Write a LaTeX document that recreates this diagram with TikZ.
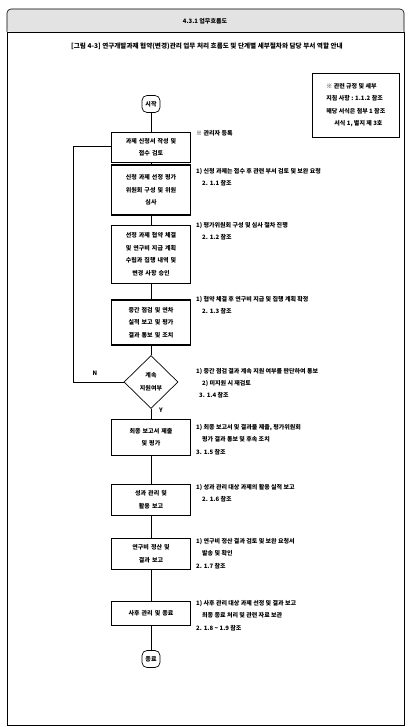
\documentclass[tikz,border=0pt]{standalone}
\usepackage{fontspec}
\setmainfont{Noto Sans CJK KR}
\usetikzlibrary{shapes.geometric}
\begin{document}
\begin{tikzpicture}[x=1pt,y=-1pt,
    every node/.style={font=\fontsize{6}{12.5}\selectfont\bfseries},
    procbox/.style={draw,line width=0.7pt,minimum width=79pt,inner sep=1pt,align=center,text width=74pt},
    thickbox/.style={procbox,line width=1.3pt},
    termbox/.style={draw,rounded corners=5pt,line width=0.7pt,minimum width=18pt,minimum height=17pt,inner sep=1pt},
    decbox/.style={draw,diamond,line width=0.7pt,minimum width=54pt,minimum height=53pt,inner sep=0pt,align=center},
    note/.style={anchor=north west,align=left,inner sep=0pt},
    flow/.style={line width=0.7pt}]
  \useasboundingbox (0,0) rectangle (407,727);
  % frame and header
  \fill[gray!22,rounded corners=4pt] (7,9) -- (7,32) -- (404,32) -- (404,9) -- cycle;
  \draw[line width=0.6pt,rounded corners=4pt] (7,32) -- (7,9) -- (404,9) -- (404,32);
  \draw[line width=0.9pt] (7,725) -- (7,32) -- (404,32) -- (404,725) -- cycle;
  \node (title) at (205,21) {4.3.1 업무흐름도};
  \node[font=\fontsize{6.6}{12}\selectfont\bfseries] (subtitle) at (207,46) {[그림 4-3] 연구개발과제 협약(변경)관리 업무 처리 흐름도 및 단계별 세부절차와 담당 부서 역할 안내};
  % legend box
  \node[draw,line width=0.7pt,anchor=north west,minimum width=87pt,minimum height=64pt,align=left,inner sep=3pt] (legend) at (312,73)
    {※ 관련 규정 및 세부\\지침 사항 : 1.1.2 참조\\해당 서식은 첨부 1 참조\\\hspace*{8pt}서식 1, 별지 제 3호};
  % flow
  \node[termbox] (start) at (151,104) {시작};
  \node[procbox,minimum height=30pt] (s1) at (151,147) {과제 신청서 작성 및\\접수 검토};
  \node[thickbox,minimum height=50pt] (s2) at (151,190) {신청 과제 선정 평가\\위원회 구성 및 위원\\심사};
  \node[procbox,minimum height=58pt] (s3) at (151,254) {선정 과제 협약 체결\\및 연구비 지급 계획\\수립과 집행 내역 및\\변경 사항 승인};
  \node[thickbox,minimum height=45pt] (s4) at (151,322.5) {중간 점검 및 연차\\실적 보고 및 평가\\결과 통보 및 조치};
  \node[decbox] (chk) at (151,382) {계속\\지원여부};
  \node[procbox,minimum height=36pt] (s5) at (151,437) {최종 보고서 제출\\및 평가};
  \node[procbox,minimum height=31pt] (s6) at (151,499.5) {성과 관리 및\\활용 보고};
  \node[procbox,minimum height=31pt] (s7) at (151,553.5) {연구비 정산 및\\결과 보고};
  \node[procbox,minimum height=24pt] (s8) at (151,613) {사후 관리 및 종료};
  \node[termbox] (stop) at (151,659) {종료};
  \coordinate (back) at (73,382);
  \draw[flow] (start) -- (s1);
  \draw[flow] (s1) -- (s2);
  \draw[flow] (s2) -- (s3);
  \draw[flow] (s3) -- (s4);
  \draw[flow] (s4) -- (chk);
  \draw[flow] (chk) -- (s5);
  \draw[flow] (s5) -- (s6);
  \draw[flow] (s6) -- (s7);
  \draw[flow] (s7) -- (s8);
  \draw[flow] (s8) -- (stop);
  \draw[flow,line width=1pt] (chk.west) -- (back) |- (s1.west);
  \node (no) at (95,373) {N};
  \node (yes) at (161,410) {Y};
  % notes
  \node[note] (n1) at (196,130) {※ 관리자 등록};
  \node[note] (n2) at (196,168) {1) 신청 과제는 접수 후 관련 부서 검토 및 보완 요청\\\hspace*{6pt}2. 1.1 참조};
  \node[note] (n3) at (196,222) {1) 평가위원회 구성 및 심사 절차 진행\\\hspace*{6pt}2. 1.2 참조};
  \node[note] (n4) at (196,296) {1) 협약 체결 후 연구비 지급 및 집행 계획 확정\\\hspace*{6pt}2. 1.3 참조};
  \node[note] (n5) at (196,368) {1) 중간 점검 결과 계속 지원 여부를 판단하여 통보\\\hspace*{6pt}2) 미지원 시 재검토};
  \node[note] (n5b) at (199,392) {3. 1.4 참조};
  \node[note] (n6) at (196,424) {1) 최종 보고서 및 결과물 제출, 평가위원회\\\hspace*{6pt}평가 결과 통보 및 후속 조치\\3. 1.5 참조};
  \node[note] (n7) at (196,484) {1) 성과 관리 대상 과제의 활용 실적 보고\\\hspace*{6pt}2. 1.6 참조};
  \node[note] (n8) at (196,538) {1) 연구비 정산 결과 검토 및 보완 요청서\\\hspace*{6pt}발송 및 확인\\2. 1.7 참조};
  \node[note] (n9) at (196,600) {1) 사후 관리 대상 과제 선정 및 결과 보고\\\hspace*{6pt}최종 종료 처리 및 관련 자료 보관\\2. 1.8 \textasciitilde{} 1.9 참조};
\end{tikzpicture}
\end{document}
